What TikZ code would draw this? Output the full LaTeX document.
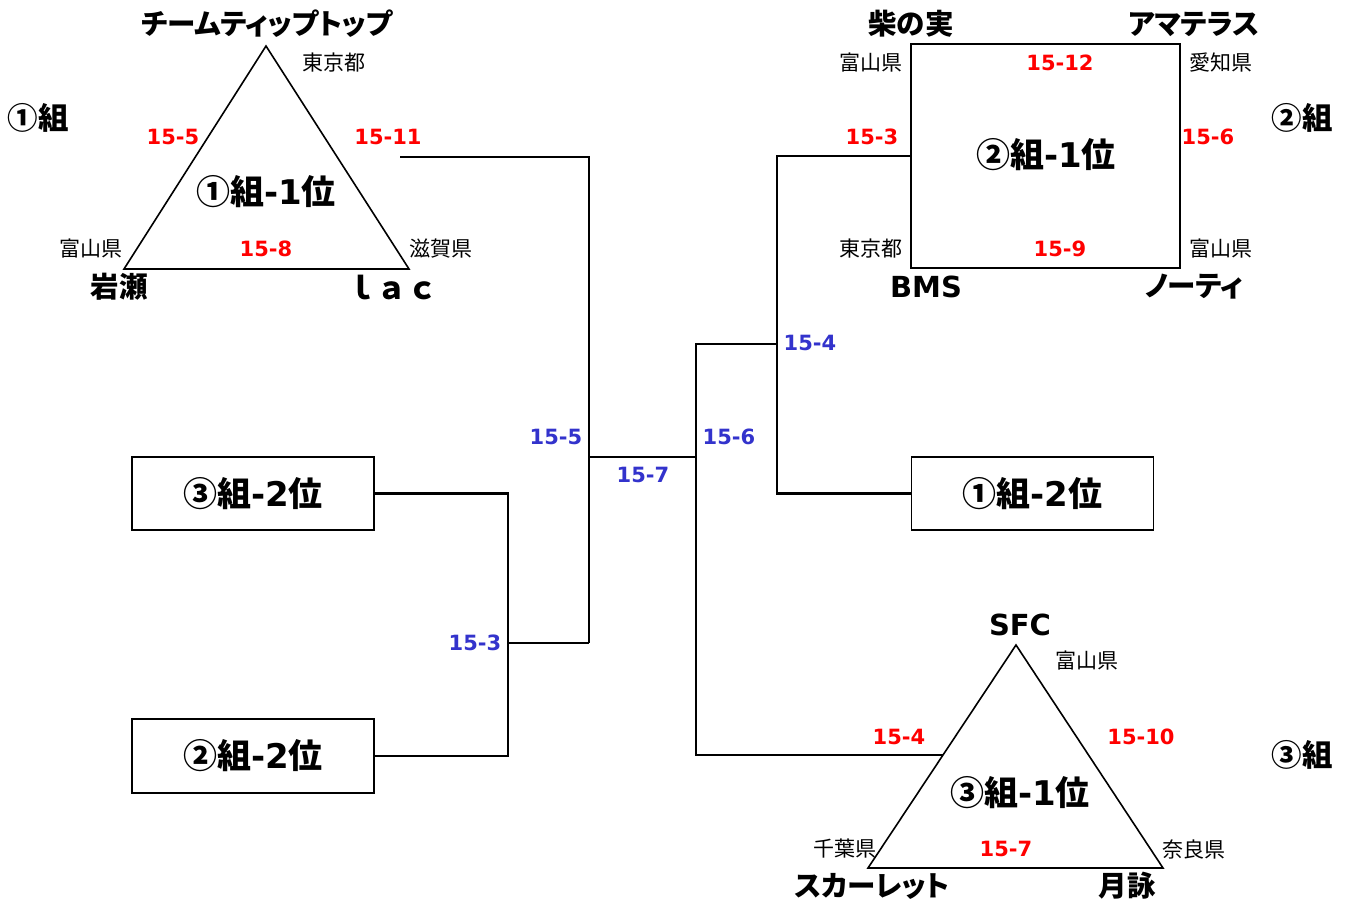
\documentclass[tikz,border=0pt]{standalone}
\usepackage{fontspec}
\usetikzlibrary{calc}
\newfontfamily\jp{Noto Sans CJK JP}
\newfontfamily\jpp[RawFeature=+palt]{Noto Sans CJK JP}
\newfontfamily\lt{DejaVu Sans}
\definecolor{scred}{RGB}{255,0,0}
\definecolor{scblue}{RGB}{51,51,204}
\newcommand\rk[2]{{\jp #1組}{\lt -#2}{\jp 位}}
\begin{document}
\begin{tikzpicture}[x=1pt,y=-1pt,
  every node/.style={inner sep=0pt,outer sep=0pt},
  team/.style={font=\jpp\bfseries\fontsize{28.5}{31}\selectfont},
  latin/.style={font=\lt\bfseries\fontsize{29}{31}\selectfont},
  grp/.style={font=\jp\bfseries\fontsize{30.5}{32}\selectfont},
  pref/.style={font=\jp\fontsize{21}{23}\selectfont},
  rsc/.style={text=scred,font=\lt\bfseries\fontsize{21}{23}\selectfont},
  bsc/.style={text=scblue,font=\lt\bfseries\fontsize{21}{23}\selectfont},
  ttl/.style={font=\jp\bfseries\fontsize{34}{36}\selectfont},
  rankbox/.style={draw,line width=1.8pt,minimum width=242pt,minimum height=73pt,font=\jp\bfseries\fontsize{34}{36}\selectfont},
  tri/.style={line width=1.6pt,line join=miter},
  wire/.style={line width=2.4pt}]
\useasboundingbox (0,0) rectangle (1351,905);
% triangle 1
\coordinate (t1a) at (266,46);
\coordinate (t1l) at (124,269);
\coordinate (t1r) at (409,269);
\draw[tri] (t1a) -- (t1l) -- (t1r) -- cycle;
\node[team] (n1a) at (267,24) {チームティップトップ};
\node[pref] (p1a) at (334,63) {東京都};
\node[grp] (g1) at (38,118) {①組};
\node[rsc] (s1l) at (173,137) {15-5};
\node[rsc] (s1r) at (388,137) {15-11};
\node[ttl] (r1) at (266,192) {\rk{①}{1}};
\node[pref] (p1l) at (91,249) {富山県};
\node[rsc] (s1b) at (266,249) {15-8};
\node[pref] (p1r) at (441,249) {滋賀県};
\node[team] (n1l) at (119,287) {岩瀬};
\node[grp] (n1r) at (392,287) {ｌａｃ};
% square group 2
\node[draw,line width=2.2pt,minimum width=269pt,minimum height=224pt] (sq) at (1045.5,156) {};
\node[team] (n2a) at (911,24) {柴の実};
\node[team] (n2b) at (1194,24) {アマテラス};
\node[pref] (p2a) at (871,63) {富山県};
\node[rsc] (s2t) at (1060,63) {15-12};
\node[pref] (p2b) at (1221,63) {愛知県};
\node[grp] (g2) at (1302,118) {②組};
\node[rsc] (s2l) at (872,137) {15-3};
\node[rsc] (s2r) at (1208,137) {15-6};
\node[ttl] (r2) at (1046,155) {\rk{②}{1}};
\node[pref] (p2c) at (871,249) {東京都};
\node[rsc] (s2b) at (1060,249) {15-9};
\node[pref] (p2d) at (1221,249) {富山県};
\node[latin] (n2c) at (926,287) {BMS};
\node[team] (n2d) at (1194,287) {ノーティ};
% triangle 3
\coordinate (t3a) at (1016,645);
\coordinate (t3l) at (868,868);
\coordinate (t3r) at (1163,868);
\draw[tri] (t3a) -- (t3l) -- (t3r) -- cycle;
\node[latin] (n3a) at (1020,625) {SFC};
\node[pref] (p3a) at (1087,661) {富山県};
\node[rsc] (s3l) at (899,737) {15-4};
\node[rsc] (s3r) at (1141,737) {15-10};
\node[grp] (g3) at (1302,755) {③組};
\node[ttl] (r3) at (1020,793) {\rk{③}{1}};
\node[pref] (p3l) at (845,849) {千葉県};
\node[rsc] (s3b) at (1006,849) {15-7};
\node[pref] (p3r) at (1194,849) {奈良県};
\node[team] (n3l) at (872,886) {スカーレット};
\node[team] (n3r) at (1127,886) {月詠};
% boxes
\node[rankbox] (b3) at (253,493.5) {\rk{③}{2}};
\node[rankbox,minimum height=74pt] (b2) at (253,756) {\rk{②}{2}};
\node[rankbox] (b1) at (1032.5,493.5) {\rk{①}{2}};
% bracket
\coordinate (w1) at (400,157);
\coordinate (j1) at (589,457);
\coordinate (j2) at (508,643);
\coordinate (j3) at (696,457);
\coordinate (j4) at (777,344);
\coordinate (w3) at ($(t3a)!0.4933!(t3l)$);
\draw[wire] (b3.east) -- (b3.east -| j2) -- (b2.east -| j2) -- (b2.east);
\draw[wire] (j2) -- (j2 -| j1);
\draw[wire] (w1) -| (j2 -| j1);
\draw[wire] (j1) -- (j3);
\draw[wire] (sq.west) -- (sq.west -| j4) -- (b1.west -| j4) -- (b1.west);
\draw[wire] (j4) -- (j4 -| j3) -- (j3 |- w3) -- (w3);
\node[bsc] (l54) at (810,343) {15-4};
\node[bsc] (l55) at (556,437) {15-5};
\node[bsc] (l56) at (729,437) {15-6};
\node[bsc] (l57) at (643,475) {15-7};
\node[bsc] (l53) at (475,643) {15-3};
\end{tikzpicture}
\end{document}
